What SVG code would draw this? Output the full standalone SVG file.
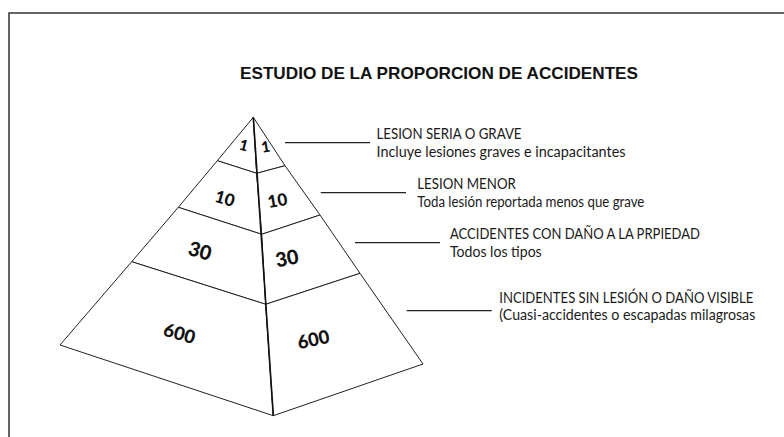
<svg xmlns="http://www.w3.org/2000/svg" width="784" height="437" viewBox="0 0 784 437">
<style>
.face{fill:#fff;stroke:#222;stroke-width:1;stroke-linejoin:miter}
.axis{stroke:#111;stroke-width:1.6;fill:none}
.num{font-family:Lato,"Open Sans",sans-serif;font-weight:900;fill:#111;text-anchor:middle}
.lbl{font-family:Lato,"Open Sans",sans-serif;font-size:15.5px;fill:#1a1a1a}
.title{font-family:"Liberation Sans",Arial,sans-serif;font-weight:bold;font-size:16.5px;fill:#111}
.leader{stroke:#222;stroke-width:1.3;fill:none}
.frame{stroke:#333;stroke-width:1.5;fill:none}
</style>
<rect width="784" height="437" fill="#fff"/>
<g id="frame"><path class="frame" d="M9,437 V13 H784"/></g>
<g id="title"><text class="title" x="240" y="79" textLength="398" lengthAdjust="spacingAndGlyphs">ESTUDIO DE LA PROPORCION DE ACCIDENTES</text></g>
<g id="tier-1">
<polygon class="face" points="253.3,117.3 217.3,160.7 256.7,173.3"/>
<polygon class="face" points="253.3,117.3 256.7,173.3 285,165.7"/>
<text class="num" font-size="15" transform="rotate(15 244 145)" x="244" y="150.5">1</text>
<text class="num" font-size="15" transform="rotate(-10 265.5 146.5)" x="265.5" y="152">1</text>
</g>
<g id="tier-2">
<polygon class="face" points="217.3,160.7 178.3,207.3 261.7,234.3 256.7,173.3"/>
<polygon class="face" points="256.7,173.3 261.7,234.3 320,215 285,165.7"/>
<text class="num" font-size="17" transform="rotate(16 225 198.5)" x="225" y="204.5">10</text>
<text class="num" font-size="17" transform="rotate(-10 277.5 200.5)" x="277.5" y="206.5">10</text>
</g>
<g id="tier-3">
<polygon class="face" points="178.3,207.3 131.7,261.7 265.7,304.3 261.7,234.3"/>
<polygon class="face" points="261.7,234.3 265.7,304.3 360,273.3 320,215"/>
<text class="num" font-size="20" transform="rotate(16 200 251)" x="200" y="258">30</text>
<text class="num" font-size="20" transform="rotate(-11 287 258.5)" x="287" y="265.5">30</text>
</g>
<g id="tier-4">
<polygon class="face" points="131.7,261.7 60,345 273.3,415.7 265.7,304.3"/>
<polygon class="face" points="265.7,304.3 273.3,415.7 423,364 360,273.3"/>
<text class="num" font-size="18.5" transform="rotate(16 179.5 333.5)" x="179.5" y="340">600</text>
<text class="num" font-size="18.5" transform="rotate(-12 313.5 339.5)" x="313.5" y="346">600</text>
</g>
<g id="axis"><line class="axis" x1="253.3" y1="117.3" x2="273.3" y2="415.7"/></g>
<g id="connectors">
<line class="leader" x1="285" y1="142.7" x2="370" y2="142.7"/>
<line class="leader" x1="320.7" y1="192.7" x2="406" y2="192.7"/>
<line class="leader" x1="355" y1="242.7" x2="440" y2="242.7"/>
<line class="leader" x1="406.7" y1="310.7" x2="491.7" y2="310.7"/>
</g>
<g id="label-1">
<text class="lbl" x="376.5" y="139" textLength="145" lengthAdjust="spacingAndGlyphs">LESION SERIA O GRAVE</text>
<text class="lbl" x="376.5" y="157" textLength="249" lengthAdjust="spacingAndGlyphs">Incluye lesiones graves e incapacitantes</text>
</g>
<g id="label-2">
<text class="lbl" x="417.3" y="188.5" textLength="98.5" lengthAdjust="spacingAndGlyphs">LESION MENOR</text>
<text class="lbl" x="417.3" y="206.7" textLength="227" lengthAdjust="spacingAndGlyphs">Toda lesión reportada menos que grave</text>
</g>
<g id="label-3">
<text class="lbl" x="450" y="239" textLength="250" lengthAdjust="spacingAndGlyphs">ACCIDENTES CON DAÑO A LA PRPIEDAD</text>
<text class="lbl" x="450" y="256.7" textLength="91.7" lengthAdjust="spacingAndGlyphs">Todos los tipos</text>
</g>
<g id="label-4">
<text class="lbl" x="499.3" y="302.7" style="font-size:14.5px" textLength="254" lengthAdjust="spacingAndGlyphs">INCIDENTES SIN LESIÓN O DAÑO VISIBLE</text>
<text class="lbl" x="499.3" y="320.3" textLength="256" lengthAdjust="spacingAndGlyphs">(Cuasi-accidentes o escapadas milagrosas</text>
</g>
</svg>
